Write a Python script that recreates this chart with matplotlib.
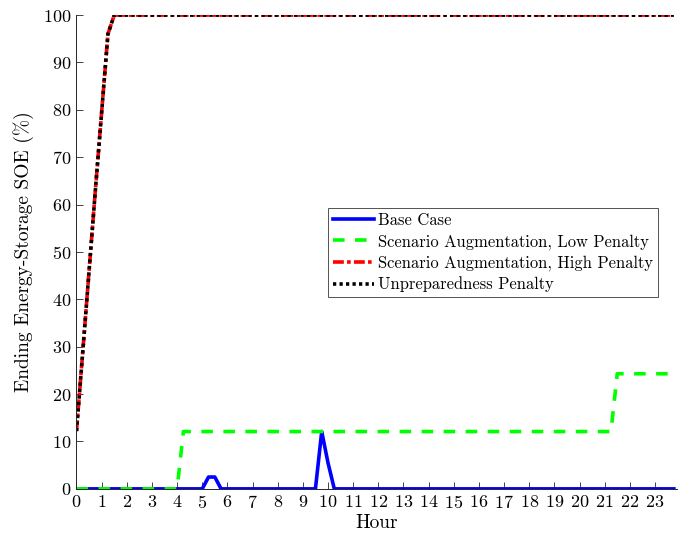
import matplotlib.pyplot as plt

plt.rcParams['font.family'] = 'cmr10'
plt.rcParams['axes.formatter.use_mathtext'] = True
plt.rcParams['mathtext.fontset'] = 'cm'

# --- data (breakpoints, hours vs SOE %) ---
base_hours = [0, 5.0, 5.25, 5.5, 5.75, 9.5, 9.75, 10.0, 10.25, 23.75]
base_soe = [0, 0, 2.5, 2.5, 0, 0, 12.1, 5.5, 0, 0]

low_hours = [0, 4.0, 4.25, 21.25, 21.5, 23.75]
low_soe = [0, 0, 12.1, 12.1, 24.3, 24.3]

high_hours = [0, 0.25, 0.5, 0.75, 1.0, 1.25, 1.5, 23.75]
high_soe = [12.2, 29.0, 46.0, 63.0, 79.5, 96.0, 100, 100]

unprep_hours = [0, 0.25, 0.5, 0.75, 1.0, 1.25, 1.5, 23.75]
unprep_soe = [12.2, 29.0, 46.0, 63.0, 79.5, 96.0, 100, 100]

labels = ['Base Case',
          'Scenario Augmentation, Low Penalty',
          'Scenario Augmentation, High Penalty',
          'Unpreparedness Penalty']

fig = plt.figure(figsize=(6.83, 5.39), dpi=100)
ax = fig.add_axes([0.112, 0.093, 0.879, 0.879])

ax.plot(base_hours, base_soe, color='#0000ff', lw=2.6, label=labels[0])
ax.plot(low_hours, low_soe, color='#00ff00', lw=2.6, dashes=(3.2, 2.9),
        label=labels[1])
ax.plot(high_hours, high_soe, color='#ff0000', lw=2.6,
        dashes=(3.0, 0.9, 1.0, 0.9), label=labels[2])
ax.plot(unprep_hours, unprep_soe, color='black', lw=2.6, dashes=(0.9, 0.9),
        label=labels[3])

ax.set_xlim(0, 23.87)
ax.set_ylim(0, 100)
ax.set_xticks(range(24))
ax.set_yticks(range(0, 101, 10))
ax.set_xlabel('Hour', fontsize=14, labelpad=2)
ax.set_ylabel('Ending Energy-Storage SOE (%)', fontsize=14, labelpad=6)
ax.tick_params(direction='in', labelsize=13, length=5, width=0.6,
               color='#262626', pad=4)
for side in ['top', 'right']:
    ax.spines[side].set_visible(False)
for side in ['left', 'bottom']:
    ax.spines[side].set_color('#262626')
    ax.spines[side].set_linewidth(0.7)

leg = ax.legend(loc='upper left', bbox_to_anchor=(0.419, 0.593),
                fontsize=11.9, frameon=True, fancybox=False,
                edgecolor='#262626', handlelength=2.5, handletextpad=0.25,
                borderpad=0.3, labelspacing=0.34, borderaxespad=0)
leg.get_frame().set_linewidth(0.7)

fig.savefig('out.png', dpi=100)
